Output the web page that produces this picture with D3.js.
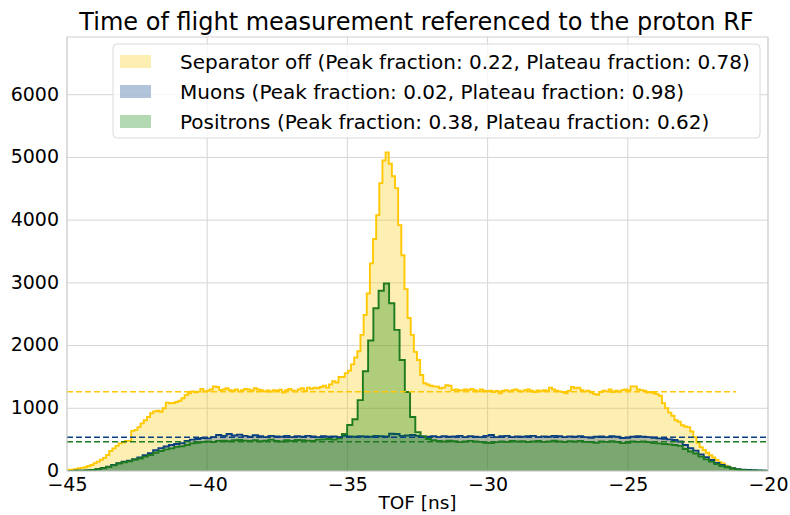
<!DOCTYPE html>
<html>
<head>
<meta charset="utf-8">
<script src="https://cdn.jsdelivr.net/npm/d3@7"></script>
<style>
  html, body { margin: 0; padding: 0; background: #fff; }
  svg { display: block; font-family: "DejaVu Sans", sans-serif; }
</style>
</head>
<body>
<svg id="chart" width="790" height="515"></svg>
<script>
// Histogram binning (TOF in ns)
const sepBinStart = -44.95, sepBinWidth = 0.112;
const selBinStart = -44.92, selBinWidth = 0.187;

// Counts per bin: separator off
const separatorOff = [
  20, 25, 30, 45, 50, 60, 80, 95, 125, 150, 180, 210, 255, 320, 360, 400, 440, 455, 480, 480,
  640, 655, 700, 760, 810, 860, 920, 950, 960, 945, 1000, 1090, 1080, 1085, 1100, 1120, 1160, 1210, 1240, 1270,
  1255, 1265, 1310, 1270, 1280, 1300, 1350, 1340, 1290, 1300, 1320, 1290, 1280, 1300, 1270, 1290, 1310, 1300, 1280, 1320,
  1300, 1290, 1270, 1285, 1265, 1290, 1280, 1295, 1250, 1290, 1310, 1285, 1270, 1300, 1320, 1280, 1330, 1310, 1330, 1320,
  1340, 1360, 1330, 1380, 1430, 1410, 1500, 1500, 1560, 1600, 1700, 1810, 1910, 2170, 2490, 2830, 3310, 3700, 4080, 4590,
  4950, 5080, 4900, 4700, 4510, 3920, 3440, 2900, 2440, 2170, 1900, 1770, 1530, 1400, 1380, 1360, 1350, 1345, 1320, 1330,
  1370, 1360, 1290, 1300, 1290, 1285, 1300, 1290, 1310, 1290, 1270, 1300, 1280, 1270, 1280, 1260, 1275, 1240, 1280, 1290,
  1270, 1290, 1300, 1280, 1270, 1290, 1300, 1280, 1260, 1285, 1270, 1290, 1280, 1330, 1300, 1280, 1270, 1260, 1240, 1280,
  1340, 1320, 1330, 1290, 1270, 1280, 1250, 1230, 1215, 1260, 1280, 1270, 1300, 1260, 1280, 1265, 1290, 1300, 1290, 1350,
  1350, 1300, 1290, 1280, 1250, 1260, 1240, 1225, 1200, 1080, 1000, 930, 880, 810, 785, 730, 710, 700, 630, 540,
  450, 380, 335, 290, 250, 215, 175, 140, 120, 85, 60, 40, 25
];

// Counts per bin: muons
const muons = [
  2, 3, 6, 10, 18, 30, 48, 70, 95, 125, 150, 165, 190, 215, 250, 285, 330, 365, 390, 415,
  430, 445, 480, 500, 510, 525, 520, 540, 575, 560, 590, 565, 580, 560, 545, 570, 555, 540, 560, 550,
  545, 560, 540, 555, 545, 560, 550, 540, 555, 545, 550, 540, 560, 550, 545, 555, 550, 545, 560, 555,
  550, 595, 590, 560, 565, 575, 560, 550, 545, 555, 540, 555, 545, 550, 560, 540, 555, 545, 540, 560,
  575, 540, 555, 560, 540, 550, 545, 555, 560, 540, 550, 545, 560, 555, 540, 550, 545, 555, 540, 530,
  545, 550, 540, 555, 545, 525, 530, 545, 555, 545, 540, 530, 520, 515, 505, 495, 470, 415, 365, 325,
  265, 220, 175, 130, 95, 70, 45, 30, 22, 16, 12, 8, 5, 2
];

// Counts per bin: positrons
const positrons = [
  2, 3, 5, 8, 15, 28, 43, 65, 90, 120, 140, 155, 180, 200, 230, 255, 290, 320, 345, 360,
  385, 395, 415, 440, 450, 465, 470, 460, 480, 485, 475, 490, 495, 485, 480, 490, 475, 485, 500, 480,
  470, 490, 480, 495, 490, 485, 480, 500, 505, 510, 500, 520, 590, 733, 825, 1130, 1590, 2080, 2595, 2875,
  2990, 2675, 2250, 1770, 1260, 860, 620, 550, 510, 490, 480, 470, 485, 475, 460, 470, 480, 470, 465, 450,
  445, 460, 470, 465, 480, 470, 475, 460, 470, 480, 465, 470, 485, 470, 460, 475, 470, 480, 465, 460,
  450, 470, 465, 475, 460, 445, 450, 470, 465, 470, 460, 445, 440, 430, 425, 415, 400, 350, 310, 280,
  230, 185, 150, 110, 80, 60, 40, 25, 15, 10, 8, 5, 3, 1
];

// Plateau levels (dashed) and their TOF extent
const plateauLevels = [1262, 537, 467];
const plateauFrom = [-45, -45, -45];
const plateauTo = [-21.14, -20, -20];

const seriesNames = ["Separator off", "Muons", "Positrons"];
const peakFractions = ["0.22", "0.02", "0.38"];
const plateauFractions = ["0.78", "0.98", "0.62"];

const xTicks = [-45, -40, -35, -30, -25, -20];
const yTicks = [0, 1000, 2000, 3000, 4000, 5000, 6000];

const colors = ["#F7C600", "#003C82", "#008000"];
const lineColors = ["#FFC800", "#0A3F80", "#1E7A1E"];

const svg = d3.select("#chart");
const margin = { left: 67, right: 22, top: 37, bottom: 44 };
const W = 790, H = 515;

const x = d3.scaleLinear().domain([-45, -20]).range([margin.left, W - margin.right]);
const y = d3.scaleLinear().domain([0, 6920]).range([H - margin.bottom, margin.top]);

svg.append("defs").append("clipPath").attr("id", "plotclip")
  .append("rect")
  .attr("x", x.range()[0]).attr("y", y.range()[1])
  .attr("width", x.range()[1] - x.range()[0])
  .attr("height", y.range()[0] - y.range()[1]);

// grid
const grid = svg.append("g");
grid.selectAll("line.vg").data(xTicks).join("line")
  .attr("x1", d => x(d)).attr("x2", d => x(d))
  .attr("y1", y.range()[0]).attr("y2", y.range()[1])
  .attr("stroke", "#d6d6d6").attr("stroke-width", 1);
grid.selectAll("line.hg").data(yTicks).join("line")
  .attr("y1", d => y(d)).attr("y2", d => y(d))
  .attr("x1", x.range()[0]).attr("x2", x.range()[1])
  .attr("stroke", "#d6d6d6").attr("stroke-width", 1);

function histogram(values, start, width) {
  return values.map((v, i) => ({ x0: start + i * width, x1: start + (i + 1) * width, v }));
}

function stepPoints(bins) {
  const pts = [[x(bins[0].x0), y(0)]];
  bins.forEach(b => {
    pts.push([x(b.x0), y(b.v)]);
    pts.push([x(b.x1), y(b.v)]);
  });
  pts.push([x(bins[bins.length - 1].x1), y(0)]);
  return pts;
}

const seriesBins = [
  histogram(separatorOff, sepBinStart, sepBinWidth),
  histogram(muons, selBinStart, selBinWidth),
  histogram(positrons, selBinStart, selBinWidth)
];

const plot = svg.append("g").attr("clip-path", "url(#plotclip)");
const line = d3.line();

seriesBins.forEach((bins, i) => {
  const pts = stepPoints(bins);
  plot.append("path")
    .attr("d", line(pts) + "Z")
    .attr("fill", colors[i]).attr("fill-opacity", 0.3)
    .attr("stroke", "none");
  plot.append("path")
    .attr("d", line(pts))
    .attr("fill", "none")
    .attr("stroke", lineColors[i]).attr("stroke-width", 1.9)
    .attr("stroke-linejoin", "miter");
});

// plateau lines
plateauLevels.forEach((lvl, i) => {
  plot.append("line")
    .attr("x1", x(plateauFrom[i])).attr("x2", x(plateauTo[i]))
    .attr("y1", y(lvl)).attr("y2", y(lvl))
    .attr("stroke", lineColors[i]).attr("stroke-width", 1.5)
    .attr("stroke-dasharray", "6,3");
});

// frame
svg.append("rect")
  .attr("x", x.range()[0]).attr("y", y.range()[1])
  .attr("width", x.range()[1] - x.range()[0])
  .attr("height", y.range()[0] - y.range()[1])
  .attr("fill", "none").attr("stroke", "#cfcfcf").attr("stroke-width", 1);

// axes
const xAxis = svg.append("g")
  .attr("transform", `translate(0,${y.range()[0]})`)
  .call(d3.axisBottom(x).tickValues(xTicks).tickSize(0).tickPadding(7)
    .tickFormat(d3.format("d")));
const yAxis = svg.append("g")
  .attr("transform", `translate(${x.range()[0]},0)`)
  .call(d3.axisLeft(y).tickValues(yTicks).tickSize(0).tickPadding(8)
    .tickFormat(d3.format("d")));
[xAxis, yAxis].forEach(g => {
  g.select(".domain").remove();
  g.selectAll("text").attr("font-size", 19).attr("fill", "#000")
    .attr("font-family", "DejaVu Sans, sans-serif");
});
yAxis.selectAll("text").attr("dy", "0.28em");

svg.append("text")
  .attr("x", (x.range()[0] + x.range()[1]) / 2).attr("y", 509)
  .attr("text-anchor", "middle").attr("font-size", 18.5)
  .text("TOF [ns]");

svg.append("text")
  .attr("x", (x.range()[0] + x.range()[1]) / 2 - 1).attr("y", 30)
  .attr("text-anchor", "middle").attr("font-size", 24)
  .text("Time of flight measurement referenced to the proton RF");

// legend
const legend = svg.append("g");
legend.append("rect")
  .attr("x", 113).attr("y", 44).attr("width", 647).attr("height", 94)
  .attr("rx", 4).attr("fill", "#fff").attr("fill-opacity", 0.8)
  .attr("stroke", "#d9d9d9").attr("stroke-width", 1);
seriesNames.forEach((name, i) => {
  const cy = 62 + i * 30;
  legend.append("rect")
    .attr("x", 120).attr("y", cy - 7).attr("width", 31).attr("height", 13)
    .attr("fill", colors[i]).attr("fill-opacity", 0.3);
  legend.append("text")
    .attr("x", 180).attr("y", cy + 7)
    .attr("font-size", 20)
    .text(`${name} (Peak fraction: ${peakFractions[i]}, Plateau fraction: ${plateauFractions[i]})`);
});
</script>
</body>
</html>
